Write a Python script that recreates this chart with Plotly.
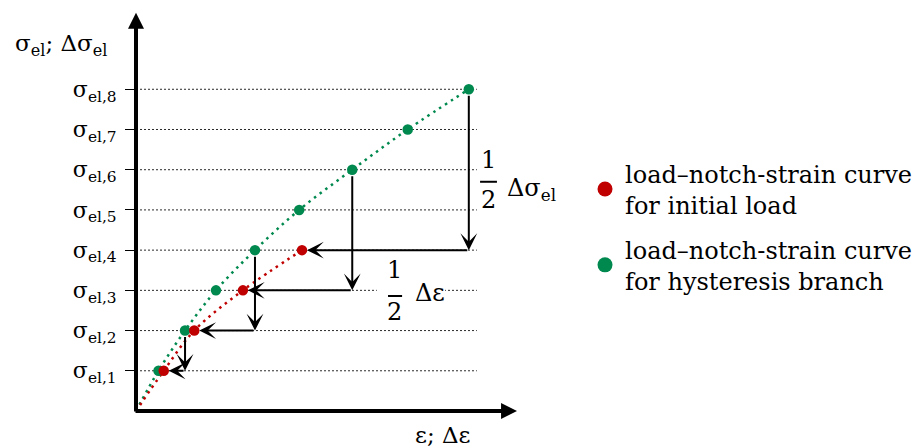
import plotly.graph_objects as go

# Stress levels and their tick labels
levels = [1, 2, 3, 4, 5, 6, 7, 8]
tick_labels = [f"σ<sub>el,{k}</sub>" for k in levels]

# Hysteresis branch: strain at each stress level
eps_hysteresis = [0.56, 1.22, 1.99, 2.96, 4.06, 5.38, 6.76, 8.28]
sig_hysteresis = [1, 2, 3, 4, 5, 6, 7, 8]

# Initial load curve: strain at each stress level
eps_initial = [0.69, 1.45, 2.66, 4.13]
sig_initial = [1, 2, 3, 4]

legend_names = [
    "load–notch-strain curve<br>for initial load",
    "load–notch-strain curve<br>for hysteresis branch",
]

RED = "#C00000"
GREEN = "#00894F"
FONT = "DejaVu Serif"

X_MAX = 19.53
Y_MAX = 10.22
GRID_END = 8.48

fig = go.Figure()

# dotted guide lines at every stress level
gx, gy = [], []
for k in levels:
    gx += [0, GRID_END, None]
    gy += [k, k, None]
fig.add_trace(go.Scatter(
    x=gx, y=gy, mode="lines", hoverinfo="skip", showlegend=False,
    line=dict(color="#2a2a2a", width=1, dash="2px,2px"),
))

# dotted curves through the origin
for xs, ys, col in [(eps_hysteresis, sig_hysteresis, GREEN),
                    (eps_initial, sig_initial, RED)]:
    fig.add_trace(go.Scatter(
        x=[0] + xs, y=[0] + ys, mode="lines", hoverinfo="skip", showlegend=False,
        line=dict(color=col, width=2.5, dash="2.5px,4.5px", shape="spline"),
    ))

# points on the curves
fig.add_trace(go.Scatter(x=eps_hysteresis, y=sig_hysteresis, mode="markers",
                         marker=dict(color=GREEN, size=10.5), showlegend=False))
fig.add_trace(go.Scatter(x=eps_initial, y=sig_initial, mode="markers",
                         marker=dict(color=RED, size=10.5), showlegend=False))

# legend entries
for name, col, grp in [(legend_names[0], RED, "a"), (legend_names[1], GREEN, "b")]:
    fig.add_trace(go.Scatter(x=[None], y=[None], mode="markers", name=name,
                             legendgroup=grp, marker=dict(color=col, size=15)))

# step arrows: down by half the stress, then left to the initial-load point
arrow = dict(showarrow=True, text="", xref="x", yref="y", axref="x", ayref="y",
             arrowcolor="black", arrowwidth=2, arrowhead=3, arrowsize=1.4)
for k in range(1, 5):
    xg = eps_hysteresis[2 * k - 1]
    fig.add_annotation(x=xg, y=k, ax=xg, ay=2 * k, startstandoff=5, **arrow)
    fig.add_annotation(x=eps_initial[k - 1], y=k, ax=xg, ay=k, standoff=5, **arrow)

# coordinate axes with arrow heads
axis_arrow = dict(showarrow=True, text="", xref="x", yref="y", axref="x", ayref="y",
                  arrowcolor="black", arrowwidth=4, arrowhead=2, arrowsize=0.8)
fig.add_annotation(x=0, y=9.9, ax=0, ay=-0.05, **axis_arrow)
fig.add_annotation(x=9.48, y=0, ax=-0.05, ay=0, **axis_arrow)

txt = dict(showarrow=False, font=dict(family=FONT, size=24, color="black"))

# axis titles
fig.add_annotation(x=-0.157, y=0.89, xref="paper", yref="paper", xanchor="left",
                   yanchor="middle", text="σ<sub>el</sub>; Δσ<sub>el</sub>",
                   showarrow=False, font=dict(family=FONT, size=23, color="black"))
fig.add_annotation(x=0.353, y=-0.058, xref="paper", yref="paper", xanchor="left",
                   yanchor="middle", text="ε; Δε",
                   showarrow=False, font=dict(family=FONT, size=23, color="black"))

shapes = []
# ½ Δσ_el label
fig.add_annotation(x=8.78, y=6.24, text="1", **txt)
fig.add_annotation(x=8.78, y=5.25, text="2", **txt)
shapes.append(dict(type="line", x0=8.56, x1=8.98, y0=5.70, y1=5.70,
                   line=dict(color="black", width=2), layer="above"))
fig.add_annotation(x=9.18, y=5.5, xanchor="left", text="Δσ<sub>el</sub>", **txt)

# ½ Δε label, cleared from the guide line behind it
shapes.append(dict(type="rect", x0=5.99, x1=7.69, y0=2.9, y1=3.1,
                   fillcolor="white", line=dict(width=0), layer="above"))
fig.add_annotation(x=6.44, y=3.51, text="1", **txt)
fig.add_annotation(x=6.44, y=2.46, text="2", **txt)
shapes.append(dict(type="line", x0=6.27, x1=6.62, y0=2.86, y1=2.86,
                   line=dict(color="black", width=2), layer="above"))
fig.add_annotation(x=6.89, y=2.94, xanchor="left", text="Δε", **txt)

fig.update_layout(
    width=921, height=448,
    margin=dict(l=136, r=0, t=0, b=37, pad=0),
    paper_bgcolor="white", plot_bgcolor="white",
    shapes=shapes,
    showlegend=True,
    legend=dict(x=0.572, y=0.632, xanchor="left", yanchor="top",
                font=dict(family=FONT, size=24, color="black"),
                bgcolor="rgba(0,0,0,0)", tracegroupgap=10.5, valign="middle",
                itemclick=False),
    xaxis=dict(range=[0, X_MAX], showgrid=False, zeroline=False, showline=False,
               showticklabels=False, ticks="", fixedrange=True),
    yaxis=dict(range=[0, Y_MAX], showgrid=False, zeroline=False, showline=False,
               tickmode="array", tickvals=levels, ticktext=tick_labels,
               ticks="outside", ticklen=10, tickwidth=1.2, tickcolor="black",
               tickfont=dict(family=FONT, size=22, color="black"),
               ticklabelstandoff=4, fixedrange=True),
)

fig.write_html("out.html")
